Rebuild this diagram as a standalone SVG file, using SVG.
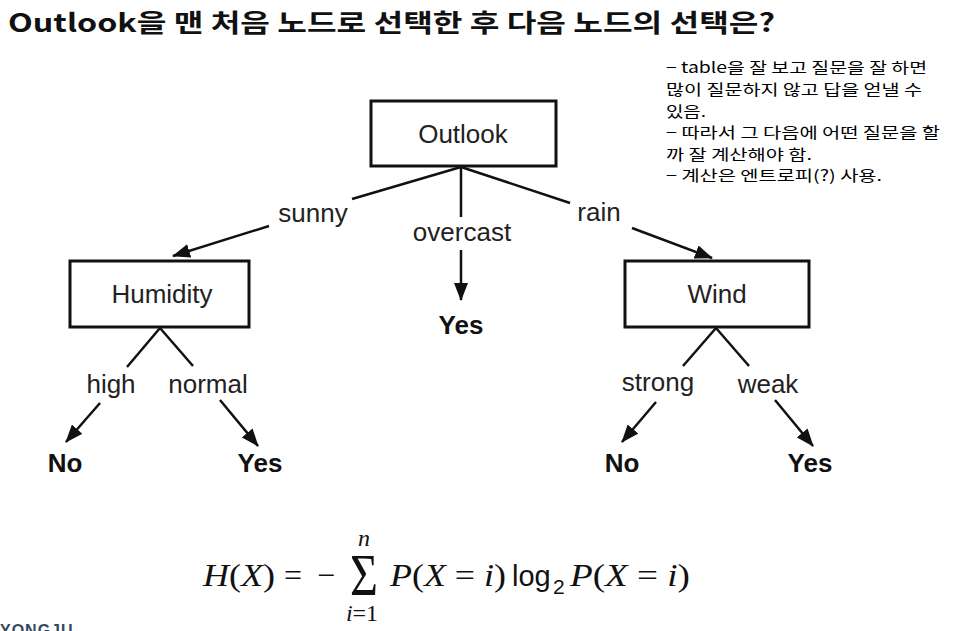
<svg xmlns="http://www.w3.org/2000/svg" width="955" height="631" viewBox="0 0 955 631">
<defs>
<style>
.box{fill:#fff;stroke:#111;stroke-width:3}
.nl{font-family:"Liberation Sans",Arial,sans-serif;font-size:26px;fill:#222;text-anchor:middle}
.el{font-family:"Liberation Sans",Arial,sans-serif;font-size:26px;fill:#222;text-anchor:middle}
.leaf{font-family:"Liberation Sans",Arial,sans-serif;font-size:26px;font-weight:bold;fill:#111;text-anchor:middle}
.ln{stroke:#111;stroke-width:2.5;fill:none}
.note{font-family:"Noto Sans CJK KR","Liberation Sans",sans-serif;font-size:15px;fill:#000}
.m{font-family:"Liberation Serif","DejaVu Serif",serif;font-size:32px;fill:#111}
.mi{font-style:italic}
.ms{font-family:"Liberation Sans",Arial,sans-serif;fill:#111}
</style>
<marker id="ah" markerUnits="userSpaceOnUse" markerWidth="18" markerHeight="14" refX="17" refY="7" orient="auto">
<path d="M0,0 L18,7 L0,14 Z" fill="#111"/>
</marker>
</defs>
<rect width="955" height="631" fill="#fff"/>
<text x="8" y="32" font-family="'Noto Sans CJK KR','Liberation Sans',sans-serif" font-size="25" font-weight="bold" fill="#111" textLength="767" lengthAdjust="spacingAndGlyphs">Outlook을 맨 처음 노드로 선택한 후 다음 노드의 선택은?</text>

<g id="note">
<text class="note" x="666" y="73" textLength="261" lengthAdjust="spacingAndGlyphs">− table을 잘 보고 질문을 잘 하면</text>
<text class="note" x="666" y="95" textLength="256" lengthAdjust="spacingAndGlyphs">많이 질문하지 않고 답을 얻낼 수</text>
<text class="note" x="666" y="117" textLength="40" lengthAdjust="spacingAndGlyphs">있음.</text>
<text class="note" x="666" y="138" textLength="274" lengthAdjust="spacingAndGlyphs">− 따라서 그 다음에 어떤 질문을 할</text>
<text class="note" x="666" y="160" textLength="146" lengthAdjust="spacingAndGlyphs">까 잘 계산해야 함.</text>
<text class="note" x="666" y="181" textLength="216" lengthAdjust="spacingAndGlyphs">− 계산은 엔트로피(?) 사용.</text>
</g>

<g id="connectors">
<line class="ln" x1="461" y1="167" x2="352" y2="199"/>
<line class="ln" x1="269" y1="226" x2="173" y2="256" marker-end="url(#ah)"/>
<line class="ln" x1="461" y1="167" x2="461" y2="217"/>
<line class="ln" x1="461" y1="250" x2="461" y2="300" marker-end="url(#ah)"/>
<line class="ln" x1="461" y1="167" x2="570" y2="203"/>
<line class="ln" x1="632" y1="228" x2="712" y2="258" marker-end="url(#ah)"/>
<line class="ln" x1="160" y1="328" x2="127" y2="367"/>
<line class="ln" x1="160" y1="328" x2="193" y2="366"/>
<line class="ln" x1="100" y1="403" x2="66" y2="442" marker-end="url(#ah)"/>
<line class="ln" x1="220" y1="400" x2="258" y2="446" marker-end="url(#ah)"/>
<line class="ln" x1="716" y1="328" x2="683" y2="366"/>
<line class="ln" x1="716" y1="328" x2="749" y2="366"/>
<line class="ln" x1="656" y1="402" x2="622" y2="442" marker-end="url(#ah)"/>
<line class="ln" x1="775" y1="400" x2="813" y2="446" marker-end="url(#ah)"/>
</g>

<g id="edge-labels">
<text class="el" x="313" y="222">sunny</text>
<text class="el" x="462" y="241">overcast</text>
<text class="el" x="599" y="221">rain</text>
<text class="el" x="111" y="393">high</text>
<text class="el" x="208" y="393">normal</text>
<text class="el" x="658" y="391">strong</text>
<text class="el" x="768" y="393">weak</text>
</g>

<g id="outlook"><rect class="box" x="371" y="101" width="185" height="65"/><text class="nl" x="463" y="143">Outlook</text></g>
<g id="humidity"><rect class="box" x="70" y="261" width="179" height="66"/><text class="nl" x="162" y="303">Humidity</text></g>
<g id="wind"><rect class="box" x="625" y="261" width="184" height="66"/><text class="nl" x="717" y="303">Wind</text></g>
<g id="yes-overcast"><text class="leaf" x="461" y="334">Yes</text></g>
<g id="no-high"><text class="leaf" x="65" y="472">No</text></g>
<g id="yes-normal"><text class="leaf" x="260" y="472">Yes</text></g>
<g id="no-strong"><text class="leaf" x="622" y="472">No</text></g>
<g id="yes-weak"><text class="leaf" x="810" y="472">Yes</text></g>

<g id="formula">
<text class="m" x="203" y="586" textLength="72" lengthAdjust="spacingAndGlyphs"><tspan class="mi">H</tspan>(<tspan class="mi">X</tspan>)</text>
<text class="m" x="284" y="586">=</text>
<text class="m" x="317" y="586">−</text>
<text class="m" x="364" y="595" style="font-size:60px" text-anchor="middle" transform="translate(364 0) scale(0.8 1) translate(-364 0)">Σ</text>
<text class="m mi" x="364" y="546" style="font-size:24px" text-anchor="middle">n</text>
<text class="m" x="362" y="621" style="font-size:24px" text-anchor="middle"><tspan class="mi">i</tspan>=1</text>
<text class="m" x="390" y="586" textLength="116" lengthAdjust="spacingAndGlyphs"><tspan class="mi">P</tspan>(<tspan class="mi">X</tspan> = <tspan class="mi">i</tspan>)</text>
<text class="ms" x="512" y="586" style="font-size:29px">log</text>
<text class="ms" x="553" y="594" style="font-size:21px">2</text>
<text class="m" x="570" y="586" textLength="120" lengthAdjust="spacingAndGlyphs"><tspan class="mi">P</tspan>(<tspan class="mi">X</tspan> = <tspan class="mi">i</tspan>)</text>
</g>

<text x="0" y="636" font-family="'Liberation Sans',Arial,sans-serif" font-size="16" font-weight="bold" fill="#34495e" letter-spacing="1">YONGJU</text>
</svg>
